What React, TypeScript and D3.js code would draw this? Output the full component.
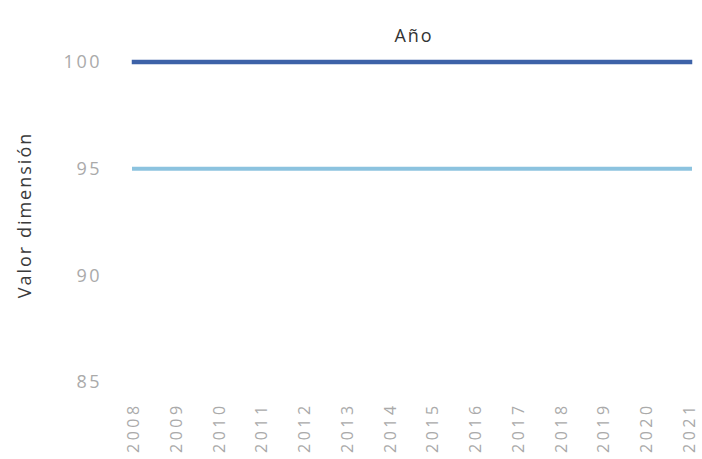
import React from "react";
import * as d3 from "d3";

const years = ["2008","2009","2010","2011","2012","2013","2014","2015","2016","2017","2018","2019","2020","2021"];
const seriesA = [100,100,100,100,100,100,100,100,100,100,100,100,100,100];
const seriesB = [95,95,95,95,95,95,95,95,95,95,95,95,95,95];
const yTicks = [85, 90, 95, 100];

export default function App() {
  const W = 702, H = 459;
  const x = d3.scalePoint<string>().domain(years).range([134, 690]);
  const y = d3.scaleLinear().domain([85, 100]).range([382, 62]);
  const line = d3.line<number>().x((_, i) => x(years[i]) as number).y(d => y(d));
  const font = "'Open Sans', 'Noto Sans', sans-serif";
  return (
    <svg width={W} height={H} style={{ position: "absolute", left: 0, top: 0, background: "#fff" }}>
      <text x={414} y={42} textAnchor="middle" fontFamily={font} fontSize={18} letterSpacing={2} fill="#333">Año</text>
      <text transform={`translate(31,${215}) rotate(-90)`} textAnchor="middle" fontFamily={font} fontSize={18} letterSpacing={2} fill="#3a3a3a">Valor dimensión</text>
      {yTicks.map(t => (
        <text key={t} x={102} y={y(t)} dy="0.35em" textAnchor="end" fontFamily={font} fontSize={18} letterSpacing={2.5} fill="#aaa">{t}</text>
      ))}
      {years.map(yr => (
        <text key={yr} transform={`translate(${(x(yr) as number) + 5},${453}) rotate(-90)`} textAnchor="start" fontFamily={font} fontSize={16} letterSpacing={3.5} fill="#aaa">{yr}</text>
      ))}
      <path d={line(seriesB) || ""} fill="none" stroke="#8cc3df" strokeWidth={4} strokeLinecap="square" />
      <path d={line(seriesA) || ""} fill="none" stroke="#3d62a8" strokeWidth={4.5} strokeLinecap="square" />
    </svg>
  );
}
